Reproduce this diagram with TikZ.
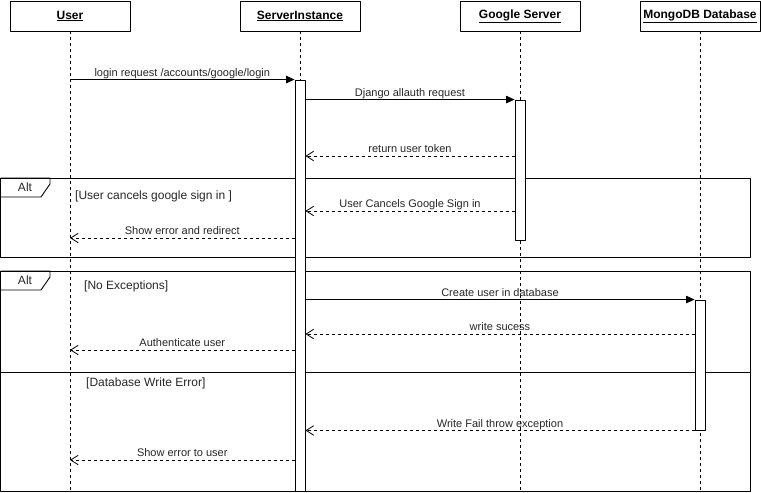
\documentclass[tikz,border=0pt]{standalone}
\usepackage{fontspec}
\setmainfont{Liberation Sans}
\usetikzlibrary{arrows.meta,positioning}
\definecolor{umlline}{HTML}{000000}
\definecolor{umltext}{HTML}{262626}

\begin{document}
\begin{tikzpicture}[
  x=1pt,
  y=-1pt,
  line join=round,
  lifehead/.style={draw=umlline,line width=0.9pt,minimum width=120pt,minimum height=30pt,inner sep=0pt,font=\fontsize{12}{14}\selectfont\bfseries},
  lifeline/.style={draw=umlline,line width=0.7pt,dash pattern=on 3pt off 3pt},
  actbar/.style={draw=umlline,fill=white,line width=0.9pt,minimum width=10pt,inner sep=0pt},
  fragframe/.style={draw=umlline,line width=0.9pt},
  fragtag/.style={inner sep=0pt,text=umltext,font=\fontsize{12}{14}\selectfont},
  syncmsg/.style={draw=umlline,line width=0.8pt,-{Triangle[length=8.5pt,width=7.5pt]}},
  replymsg/.style={draw=umlline,line width=0.8pt,dash pattern=on 3pt off 3pt,-{Straight Barb[length=7.5pt,width=9.5pt]}},
  msglabel/.style={above,midway,inner sep=1pt,text height=8pt,text depth=2pt,text=umltext,font=\fontsize{11}{13}\selectfont},
  guardlabel/.style={anchor=west,inner sep=0pt,text=umltext,font=\fontsize{12}{14}\selectfont}
]
  \useasboundingbox (0,0) rectangle (761,493);

  % Lifeline heads.
  \node[lifehead] (user) at (70,16) {\underline{User}};
  \node[lifehead] (server) at (300,16) {\underline{ServerInstance}};
  \node[lifehead] (google) at (520,16) {\underline{Google Server}};
  \node[lifehead] (mongo) at (700,16) {\underline{MongoDB Database}};

  % Dashed lifelines run to the bottom edge.
  \coordinate (bottom) at (0,493);
  \foreach \p in {user,server,google,mongo} {
    \draw[lifeline] (\p.south) -- (\p |- bottom);
  }

  % First alt fragment: the user cancels the sign in.
  \draw[fragframe] (0.5,178) rectangle (750,257);
  \draw[fragframe] (0.5,178) -- (50,178) -- (50,184) -- (41,197) -- (0.5,197);
  \node[fragtag] (altCancel) at (25,187.5) {Alt};
  \node[guardlabel] (guardCancel) at (75,196) {[User cancels google sign in ]};

  % Second alt fragment, split by the operand separator.
  \draw[fragframe] (0.5,271) rectangle (750,491);
  \draw[fragframe] (0.5,271) -- (50,271) -- (50,277) -- (41,290) -- (0.5,290);
  \draw[fragframe] (0.5,372) -- (750,372);
  \node[fragtag] (altWrite) at (25,280.5) {Alt};
  \node[guardlabel] (guardOk) at (84,286) {[No Exceptions]};
  \node[guardlabel] (guardFail) at (86,383) {[Database Write Error]};

  % Activation bars sit on top of the fragment lines.
  \node[actbar,minimum height=411pt] (srvbar) at (300,285.5) {};
  \node[actbar,minimum height=140pt] (ggbar) at (520,170) {};
  \node[actbar,minimum height=130pt] (dbbar) at (700,365) {};

  % Message rows.
  \coordinate (rToken) at (0,156);
  \coordinate (rCancel) at (0,211);
  \coordinate (rRedirect) at (0,238);
  \coordinate (rSuccess) at (0,334);
  \coordinate (rAuth) at (0,350);
  \coordinate (rShowErr) at (0,460);

  % Calls.
  \draw[syncmsg] (user |- srvbar.north) -- (srvbar.north west)
    node[msglabel] {login request /accounts/google/login};
  \draw[syncmsg] (srvbar.east |- ggbar.north) -- (ggbar.north west)
    node[msglabel] {Django allauth request};
  \draw[syncmsg] (srvbar.east |- dbbar.north) -- (dbbar.north west)
    node[msglabel] {Create user in database};

  % Replies.
  \draw[replymsg] (ggbar.west |- rToken) -- (srvbar.east |- rToken)
    node[msglabel] {return user token};
  \draw[replymsg] (ggbar.west |- rCancel) -- (srvbar.east |- rCancel)
    node[msglabel] {User Cancels Google Sign in};
  \draw[replymsg] (srvbar.west |- rRedirect) -- (user |- rRedirect)
    node[msglabel] {Show error and redirect};
  \draw[replymsg] (dbbar.west |- rSuccess) -- (srvbar.east |- rSuccess)
    node[msglabel] {write sucess};
  \draw[replymsg] (srvbar.west |- rAuth) -- (user |- rAuth)
    node[msglabel] {Authenticate user};
  \draw[replymsg] (dbbar.south west) -- (srvbar.east |- dbbar.south)
    node[msglabel] {Write Fail throw exception};
  \draw[replymsg] (srvbar.west |- rShowErr) -- (user |- rShowErr)
    node[msglabel] {Show error to user};
\end{tikzpicture}
\end{document}
